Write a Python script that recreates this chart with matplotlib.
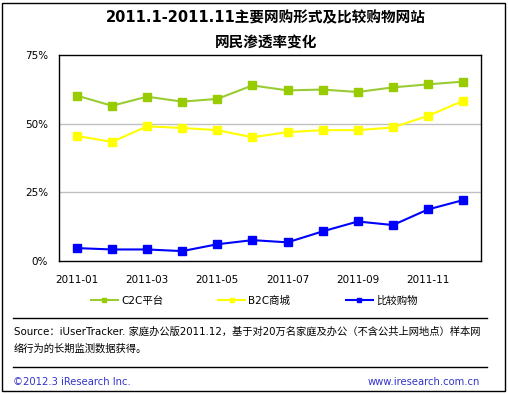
import numpy as np
import matplotlib.pyplot as plt
from matplotlib.lines import Line2D
from matplotlib.patches import Rectangle

plt.rcParams['font.family'] = ['DejaVu Sans', 'Noto Sans CJK SC']

# data (percent)
months = ['2011-01', '2011-02', '2011-03', '2011-04', '2011-05', '2011-06',
          '2011-07', '2011-08', '2011-09', '2011-10', '2011-11', '2011-12']
c2c = [60.2, 56.5, 59.8, 58.0, 59.0, 63.9, 62.1, 62.4, 61.5, 63.2, 64.3, 65.3]
b2c = [45.5, 43.3, 49.0, 48.4, 47.6, 45.0, 46.9, 47.6, 47.6, 48.6, 52.8, 58.3]
compare = [4.6, 4.1, 4.1, 3.5, 6.0, 7.5, 6.7, 10.7, 14.3, 13.0, 18.7, 22.1]
series_names = ['C2C平台', 'B2C商城', '比较购物']
yticks = [0, 25, 50, 75]

fig = plt.figure(figsize=(5.08, 3.94), dpi=100)
ax = fig.add_axes([0.1167, 0.3383, 0.8296, 0.5221])

x = np.arange(len(months))
l1, = ax.plot(x, c2c, '-s', color='#99cc33', mfc='#99cc00', mec='#99cc00', lw=1.5, ms=6)
l2, = ax.plot(x, b2c, '-s', color='#ffff00', mfc='#ffff00', mec='#ffff00', lw=1.5, ms=6)
l3, = ax.plot(x, compare, '-s', color='#0000ff', mfc='#0000ff', mec='#0000ff', lw=1.5, ms=6)

ax.set_xlim(-0.5, len(months) - 0.5)
ax.set_ylim(0, 75)
ax.set_yticks(yticks)
ax.set_yticklabels([str(v) + '%' for v in yticks], fontsize=7.5)
ax.set_xticks(x[::2])
ax.set_xticklabels(months[::2], fontsize=7.5)
ax.tick_params(length=0, pad=10)
ax.tick_params(axis='y', pad=8)
for v in [25, 50]:
    ax.axhline(v, color='#c0c0c0', lw=1, zorder=0)
for s in ax.spines.values():
    s.set_color('black')
    s.set_linewidth(1)

fig.text(0.524, 0.955, '2011.1-2011.11主要网购形式及比较购物网站', ha='center', va='center',
         fontsize=10.5, fontweight='bold')
fig.text(0.524, 0.893, '网民渗透率变化', ha='center', va='center', fontsize=10.5, fontweight='bold')

leg = fig.legend([l1, l2, l3], series_names, loc='center', bbox_to_anchor=(0.5, 0.237),
                 ncol=3, frameon=False, fontsize=7.5, columnspacing=5.3, handlelength=2.6,
                 handletextpad=0.3, markerscale=0.6)

fig.add_artist(Line2D([13 / 508, 487 / 508], [1 - 318 / 394] * 2, color='black', lw=1))
fig.add_artist(Line2D([13 / 508, 487 / 508], [1 - 367 / 394] * 2, color='black', lw=1))
fig.add_artist(Rectangle((2 / 508, 3 / 394), 503 / 508, 388 / 394, fill=False, ec='black', lw=1))

fig.text(14 / 508, 1 - 332 / 394, 'Source：iUserTracker. 家庭办公版2011.12，基于对20万名家庭及办公（不含公共上网地点）样本网',
         fontsize=7.4, va='center', ha='left')
fig.text(14 / 508, 1 - 349 / 394, '络行为的长期监测数据获得。', fontsize=7.4, va='center', ha='left')
fig.text(13 / 508, 1 - 382 / 394, '©2012.3 iResearch Inc.', fontsize=7.2, va='center', ha='left', color='#3333cc')
fig.text(480 / 508, 1 - 382 / 394, 'www.iresearch.com.cn', fontsize=7.2, va='center', ha='right', color='#3333cc')

fig.savefig('out.png', dpi=100)
